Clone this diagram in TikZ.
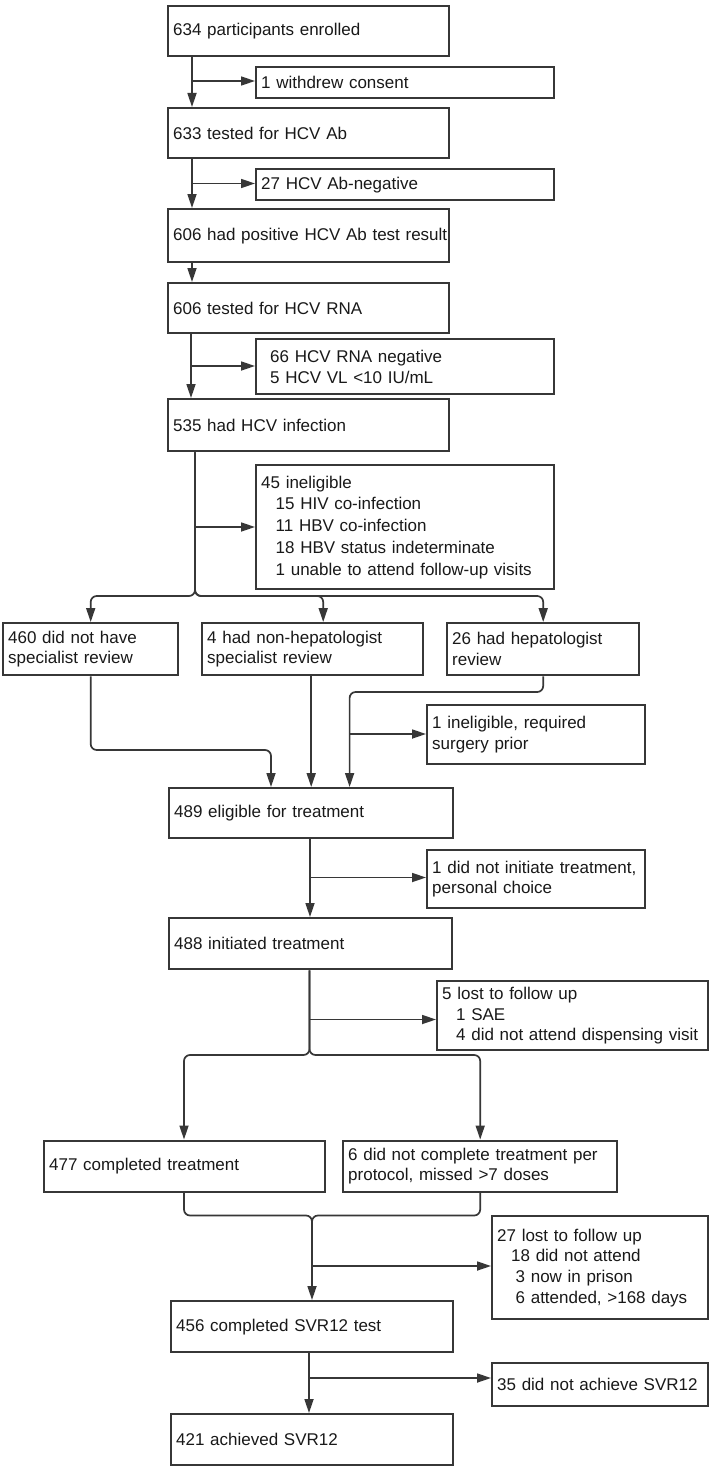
\documentclass[tikz,border=0pt]{standalone}
\usepackage{fontspec}
\setmainfont{Liberation Sans}
\usetikzlibrary{arrows.meta}
\definecolor{ln}{RGB}{55,55,55}
\definecolor{tx}{RGB}{25,25,25}
\begin{document}
\begin{tikzpicture}[x=1pt,y=-1pt,
  box/.style={draw=ln, line width=2.4pt, anchor=north west, inner xsep=5pt, inner ysep=0pt, align=left, text=tx, font=\fontsize{17}{20.7}\selectfont},
  conn/.style={draw=ln, line width=1.7pt},
  arr/.style={conn, -{Triangle[length=14pt,width=9pt]}},
  ]
\fill[white] (0,0) rectangle (709,1469);
\useasboundingbox (0,0) rectangle (709,1469);

% main column
\node[box, minimum width=281pt, minimum height=50pt, text width=271pt] (n1) at (167,5) {634 participants enrolled};
\node[box, minimum width=298pt, minimum height=31pt, text width=288pt] (w1) at (255,66) {1 withdrew consent};
\node[box, minimum width=281pt, minimum height=50pt, text width=271pt] (n2) at (167,107) {633 tested for HCV Ab};
\node[box, minimum width=298pt, minimum height=31pt, text width=288pt] (w2) at (255,168) {27 HCV Ab-negative};
\node[box, minimum width=281pt, minimum height=53pt, text width=271pt] (n3) at (167,208) {\mbox{606 had positive HCV Ab test result}};
\node[box, minimum width=281pt, minimum height=50pt, text width=271pt] (n4) at (167,282) {606 tested for HCV RNA};
\node[box, minimum width=298pt, minimum height=55pt, text width=288pt] (w3) at (255,338) {\hspace*{9pt}66 HCV RNA negative\\\hspace*{9pt}5 HCV VL <10 IU/mL};
\node[box, minimum width=281pt, minimum height=52pt, text width=271pt] (n5) at (167,398) {535 had HCV infection};
\node[box, minimum width=298pt, minimum height=124pt, text width=288pt, font=\fontsize{17}{21.7}\selectfont] (w4) at (255,464) {45 ineligible\\\hspace*{14.5pt}15 HIV co-infection\\\hspace*{14.5pt}11 HBV co-infection\\\hspace*{14.5pt}18 HBV status indeterminate\\\hspace*{14.5pt}1 unable to attend follow-up visits};

\node[box, minimum width=175pt, minimum height=52pt, text width=165pt] (b1) at (2,622) {460 did not have\\specialist review};
\node[box, minimum width=221pt, minimum height=52pt, text width=211pt] (b2) at (201,622) {4 had non-hepatologist\\specialist review};
\node[box, minimum width=192pt, minimum height=52pt, text width=182pt] (b3) at (446,622) {26 had hepatologist\\review};
\node[box, minimum width=218pt, minimum height=59pt, text width=208pt] (w5) at (426,704) {1 ineligible, required\\surgery prior};

\node[box, minimum width=284pt, minimum height=50pt, text width=274pt] (n6) at (168,787) {489 eligible for treatment};
\node[box, minimum width=218pt, minimum height=58pt, text width=208pt] (w6) at (426,849) {1 did not initiate treatment,\\personal choice};
\node[box, minimum width=283pt, minimum height=51pt, text width=273pt] (n7) at (168,917) {488 initiated treatment};
\node[box, minimum width=271pt, minimum height=69pt, text width=261pt] (w7) at (436,980) {5 lost to follow up\\\hspace*{14pt}1 SAE\\\hspace*{14pt}4 did not attend dispensing visit};

\node[box, minimum width=281pt, minimum height=51pt, text width=271pt] (c1) at (43,1139.5) {477 completed treatment};
\node[box, minimum width=274pt, minimum height=51pt, text width=264pt] (c2) at (342,1139.5) {6 did not complete treatment per\\protocol, missed >7 doses};
\node[box, minimum width=216pt, minimum height=103pt, text width=206pt] (w8) at (491,1215) {27 lost to follow up\\\hspace*{14pt}18 did not attend\\\hspace*{18.5pt}3 now in prison\\\hspace*{18.5pt}6 attended, >168 days};
\node[box, minimum width=282pt, minimum height=51pt, text width=272pt] (n8) at (170,1300) {456 completed SVR12 test};
\node[box, minimum width=216pt, minimum height=43pt, text width=206pt] (w9) at (491,1362) {35 did not achieve SVR12};
\node[box, minimum width=282pt, minimum height=51pt, text width=272pt] (n9) at (170,1413) {421 achieved SVR12};

% connectors
\coordinate (a1) at (192,81);
\draw[arr] (n1.south -| a1) -- (n2.north -| a1);
\draw[arr] (a1) -- (a1 -| w1.west);
\coordinate (a2) at (192,183.5);
\draw[arr] (n2.south -| a2) -- (n3.north -| a2);
\draw[arr] (a2) -- (a2 -| w2.west);
\coordinate (a3) at (192,270);
\draw[arr] (n3.south -| a3) -- (n4.north -| a3);
\coordinate (a4) at (191,366);
\draw[arr] (n4.south -| a4) -- (n5.north -| a4);
\draw[arr] (a4) -- (a4 -| w3.west);

\coordinate (a5) at (195,527);
\coordinate (s5) at (195,596);
\draw[arr] (a5) -- (a5 -| w4.west);
\draw[arr, rounded corners=6pt] (n5.south -| s5) -- (s5) -| (b1.north);
\draw[arr, rounded corners=6pt] (n5.south -| s5) -- (s5) -| ([xshift=10.5pt]b2.north);
\draw[arr, rounded corners=6pt] (n5.south -| s5) -- (s5) -| (b3.north);

\coordinate (m1) at (271,750);
\draw[arr, rounded corners=6pt] (b1.south) |- (m1) -- (n6.north -| m1);
\draw[arr] (n6.north |- b2.south) -- (n6.north);
\coordinate (m3) at (349.6,692);
\coordinate (a6) at (349.6,734);
\draw[arr, rounded corners=6pt] (b3.south) |- (m3) -- (n6.north -| m3);
\draw[arr] (a6) -- (a6 -| w5.west);

\coordinate (a7) at (310,877.5);
\draw[arr] (n6.south -| a7) -- (n7.north -| a7);
\draw[arr] (a7) -- (a7 -| w6.west);

\coordinate (a8) at (309.5,1019.5);
\coordinate (s7) at (309.5,1055);
\coordinate (k1) at (184,1100);
\draw[arr] (a8) -- (a8 -| w7.west);
\draw[arr, rounded corners=6pt] (n7.south -| s7) -- (s7) -| (c1.north -| k1);
\draw[arr, rounded corners=6pt] (n7.south -| s7) -- (s7) -| (c2.north);

\coordinate (s8) at (312,1215.5);
\coordinate (a9) at (312,1266);
\draw[arr, rounded corners=6pt] (c1.south -| k1) |- (s8) -- (n8.north -| s8);
\draw[conn, rounded corners=6pt] (c2.south) |- (s8) -- (a9);
\draw[arr] (a9) -- (a9 -| w8.west);

\coordinate (a10) at (309,1378);
\draw[arr] (n8.south -| a10) -- (n9.north -| a10);
\draw[arr] (a10) -- (a10 -| w9.west);
\end{tikzpicture}
\end{document}
